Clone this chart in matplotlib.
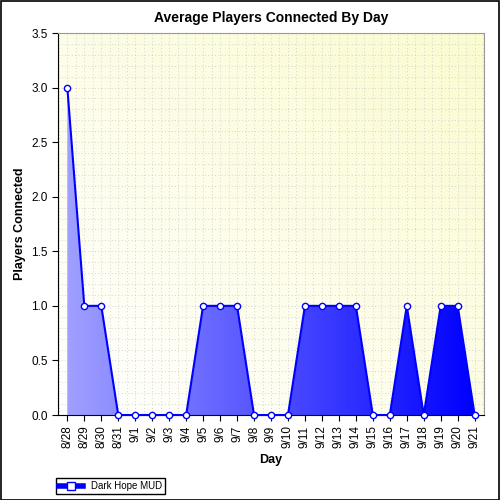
import matplotlib
matplotlib.use("Agg")
import matplotlib.pyplot as plt
import numpy as np
from matplotlib.colors import LinearSegmentedColormap
from matplotlib.lines import Line2D
from matplotlib.patches import Rectangle

days = ["8/28", "8/29", "8/30", "8/31", "9/1", "9/2", "9/3", "9/4", "9/5", "9/6",
        "9/7", "9/8", "9/9", "9/10", "9/11", "9/12", "9/13", "9/14", "9/15", "9/16",
        "9/17", "9/18", "9/19", "9/20", "9/21"]
players = [3, 1, 1, 0, 0, 0, 0, 0, 1, 1, 1, 0, 0, 0, 1, 1, 1, 1, 0, 0, 1, 0, 1, 1, 0]

fig = plt.figure(figsize=(5, 5), dpi=100)
fig.patches.append(Rectangle((0.001, 0.001), 0.997, 0.997, transform=fig.transFigure,
                             fill=False, edgecolor="black", linewidth=1.2))
ax = fig.add_axes([0.116, 0.17, 0.852, 0.764])

x = np.arange(len(days))
xlo, xhi = -0.55, len(days) - 0.45
ylo, yhi = 0, 3.5

# background gradient: white bottom-left to pale yellow top-right
gx, gy = np.meshgrid(np.linspace(0, 1, 200), np.linspace(0, 1, 200))
bg_cmap = LinearSegmentedColormap.from_list("bg", ["#ffffff", "#fbfbd0"])
ax.imshow((gx + gy) / 2, extent=[xlo, xhi, ylo, yhi], origin="lower",
          cmap=bg_cmap, aspect="auto", zorder=0)

# area gradient: light blue left to deep blue right
fill_cmap = LinearSegmentedColormap.from_list("fill", ["#a0a0ff", "#0000ff"])
poly = ax.fill_between(x, players, 0, color="none", zorder=1)
grad = ax.imshow(np.linspace(0, 1, 256).reshape(1, -1), extent=[x[0], x[-1], ylo, yhi],
                 origin="lower", cmap=fill_cmap, aspect="auto", zorder=1)
grad.set_clip_path(poly.get_paths()[0], transform=ax.transData)

ax.plot(x, players, color="#0000ff", linewidth=1.5, marker="o", markersize=4.5,
        markerfacecolor="white", markeredgecolor="#0000ff", zorder=3, clip_on=False)

ax.set_xlim(xlo, xhi)
ax.set_ylim(ylo, yhi)
ax.set_xticks(x)
ax.set_xticklabels(days, rotation=90, fontsize=8.5, family="Liberation Sans")
ax.set_yticks(np.arange(0, 3.51, 0.5))
ax.set_yticklabels([f"{v:.1f}" for v in np.arange(0, 3.51, 0.5)], fontsize=8.5,
                   family="Liberation Sans")
ax.set_yticks(np.arange(0, 3.5, 0.1), minor=True)
ax.set_xticks(np.arange(xlo + 0.05, xhi, 0.5), minor=True)
ax.tick_params(which="minor", length=0)
ax.tick_params(direction="out", length=4)
ax.set_axisbelow(True)
ax.grid(which="both", color="#c8c8c8", linestyle=(0, (1, 3)), linewidth=0.6)
for side in ["top", "right"]:
    ax.spines[side].set_color("#999999")

ax.set_title("Average Players Connected By Day", fontsize=10, fontweight="bold",
             family="Liberation Sans", pad=8)
ax.set_xlabel("Day", fontsize=9, fontweight="bold", family="Liberation Sans")
ax.set_ylabel("Players Connected", fontsize=9, fontweight="bold", family="Liberation Sans")

handle = Line2D([], [], color="#0000ff", linewidth=4, marker="s", markersize=6,
                markerfacecolor="white", markeredgecolor="#0000ff")
fig.legend([handle], ["Dark Hope MUD"], loc="lower left", bbox_to_anchor=(0.112, 0.012),
           fancybox=False, edgecolor="black", framealpha=1,
           prop={"family": "Liberation Sans", "size": 7}, borderpad=0.3,
           handlelength=2.5, borderaxespad=0)

fig.savefig("out.png", dpi=100)
